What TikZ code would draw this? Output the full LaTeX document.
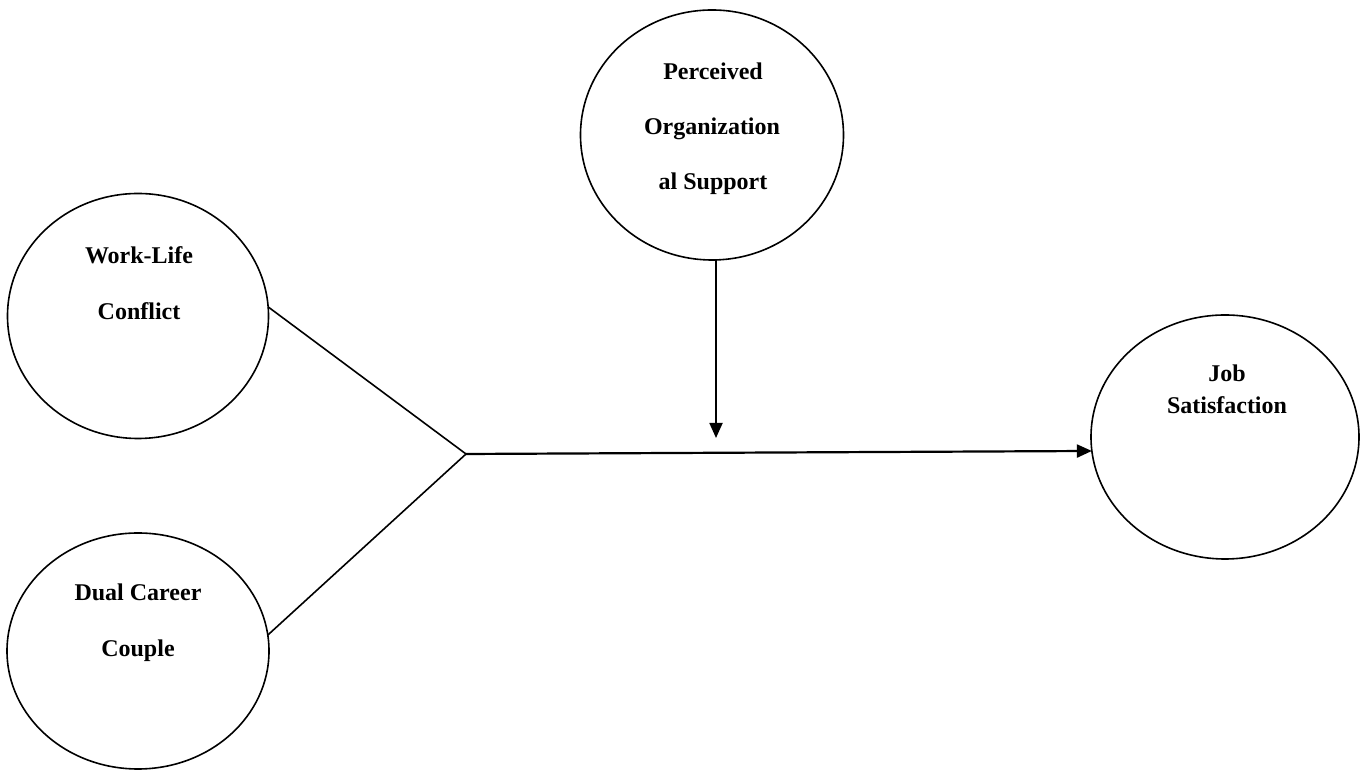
\documentclass[tikz,border=0pt]{standalone}
\usepackage{fontspec}
\setmainfont{Liberation Serif}
\usetikzlibrary{arrows.meta,shapes.geometric}
\begin{document}
\begin{tikzpicture}[x=1pt,y=1pt,
  construct/.style={draw, ellipse, line width=1.6pt, inner sep=0pt, outer sep=0pt},
  lbl/.style={anchor=base, font=\fontsize{24}{28}\selectfont\bfseries, inner sep=0pt},
  link/.style={line width=1.6pt},
  arr/.style={line width=1.8pt, -{Triangle[length=15pt,width=13pt]}}]
\useasboundingbox (0,0) rectangle (1361,770);
% constructs
\node[construct, minimum width=261pt, minimum height=245pt] (wl) at (138,454) {};
\node[construct, minimum width=262pt, minimum height=236pt] (dc) at (138,119) {};
\node[construct, minimum width=263pt, minimum height=250pt] (pos) at (712,635) {};
\node[construct, minimum width=268pt, minimum height=244pt] (js) at (1225,333) {};
% labels
\node[lbl] (wl1) at (139,506) {Work-Life};
\node[lbl] (wl2) at (139,450) {Conflict};
\node[lbl] (dc1) at (138,169) {Dual Career};
\node[lbl] (dc2) at (138,113) {Couple};
\node[lbl] (pos1) at (713,690) {Perceived};
\node[lbl] (pos2) at (712,635) {Organization};
\node[lbl] (pos3) at (713,580) {al Support};
\node[lbl] (js1) at (1227,388) {Job};
\node[lbl] (js2) at (1227,356) {Satisfaction};
% connectors
\coordinate (jn) at (466,316);
\coordinate (tip) at (716,332);
\draw[link] (wl.4) -- (jn);
\draw[link] (dc.7) -- (jn);
\draw[arr, line width=2.2pt] (jn) -- (js.186);
\draw[arr] (pos.south -| tip) -- (tip);
\end{tikzpicture}
\end{document}
